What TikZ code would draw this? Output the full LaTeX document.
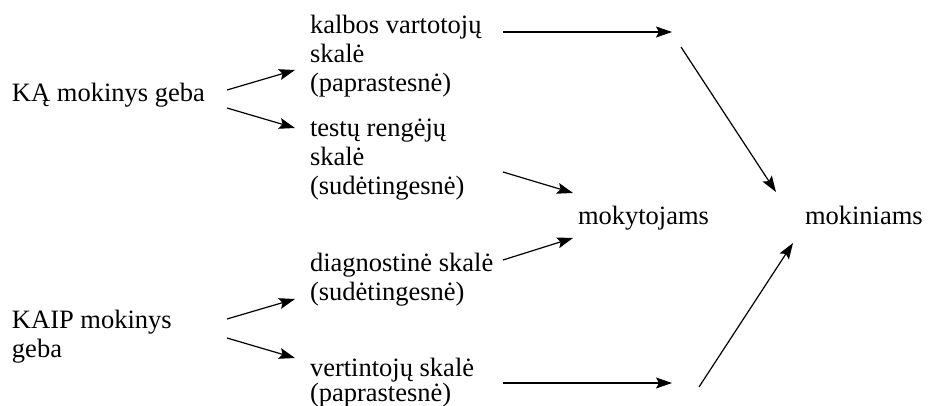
\documentclass[tikz,border=0pt]{standalone}
\usepackage{fontspec}
\setmainfont{Liberation Serif}
\usetikzlibrary{arrows.meta,calc}
\begin{document}
\begin{tikzpicture}[x=1pt,y=-1pt,
  txt/.style={anchor=base west,inner sep=0pt,outer sep=0pt,align=left,font=\fontsize{26.5}{29}\selectfont},
  arr/.style={line width=1.2pt,-{Stealth[length=16pt,width=11pt,inset=3pt]}}]
\useasboundingbox (0,0) rectangle (930,406);
% anchor base west = baseline of the last line
\node[txt] (ka) at (12,102) {KĄ mokinys geba};
\node[txt] (kalbos) at (310,92) {kalbos vartotojų\\skalė\\(paprastesnė)};
\node[txt] (testu) at (310,195) {testų rengėjų\\skalė\\(sudėtingesnė)};
\node[txt] (diag) at (310,301) {diagnostinė skalė\\(sudėtingesnė)};
\node[txt] (kaip) at (12,358) {KAIP mokinys\\geba};
\node[txt,font=\fontsize{26.5}{25}\selectfont] (vert) at (310,402) {vertintojų skalė\\(paprastesnė)};
\node[txt] (mokyt) at (578,225) {mokytojams};
\node[txt] (mokin) at (805,225) {mokiniams};
\coordinate (c1) at (672,32);
\coordinate (c2) at (672,383);
\coordinate (c3) at (681,47);
\coordinate (c4) at (699,387);
\draw[arr] ($(ka.base west)+(215,-12)$) -- ($(kalbos.base west)+(-15,-22)$);
\draw[arr] ($(ka.base west)+(215,6)$) -- ($(testu.base west)+(-15,-67)$);
\draw[arr] ($(kaip.base west)+(215,-39)$) -- ($(diag.base west)+(-15,-2)$);
\draw[arr] ($(kaip.base west)+(215,-20)$) -- ($(vert.base west)+(-15,-44)$);
\draw[arr] ($(kalbos.base west)+(193,-60)$) -- (c1);
\draw[arr] ($(testu.base west)+(193,-23)$) -- ($(mokyt.base west)+(-5,-32)$);
\draw[arr] ($(diag.base west)+(193,-41)$) -- ($(mokyt.base west)+(-5,13)$);
\draw[arr] ($(vert.base west)+(193,-19)$) -- (c2);
\draw[arr] (c3) -- ($(mokin.base west)+(-29,-33)$);
\draw[arr] (c4) -- ($(mokin.base west)+(-12,18)$);
\end{tikzpicture}
\end{document}
